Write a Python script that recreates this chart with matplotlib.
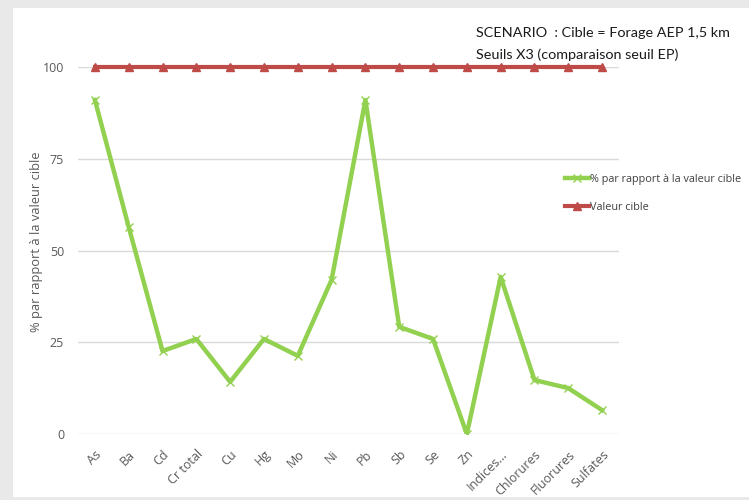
import matplotlib
matplotlib.use("Agg")
import matplotlib.pyplot as plt
from matplotlib.patches import Rectangle

plt.rcParams['font.family'] = ['Open Sans', 'DejaVu Sans']

# Data
categories = ["As", "Ba", "Cd", "Cr total", "Cu", "Hg", "Mo", "Ni", "Pb", "Sb",
              "Se", "Zn", "Indices...", "Chlorures", "Fluorures", "Sulfates"]
pct_values = [91.0, 56.4, 22.6, 25.9, 14.2, 25.9, 21.3, 42.0, 91.0, 29.2,
              25.9, 0.0, 42.8, 14.7, 12.5, 6.5]
target_values = [100] * len(categories)
y_ticks = [0, 25, 50, 75, 100]

fig = plt.figure(figsize=(7.49, 5.0), dpi=100)
fig.patch.set_facecolor("#e9e9e9")
# white card of the screenshot
fig.patches.append(Rectangle((13 / 749, 0.006), 1, 0.978, transform=fig.transFigure,
                             facecolor="white", edgecolor="none", zorder=-10))

ax = fig.add_axes([78 / 749, 66 / 500, 541 / 749, 367 / 500])
ax.set_zorder(2)
ax.set_facecolor("none")
x = list(range(len(categories)))

ax.plot(x, pct_values, color="#92d050", linewidth=3.2, marker="x", markersize=6,
        markeredgewidth=1.0, markeredgecolor="#92d050", label="% par rapport à la valeur cible",
        zorder=3)
ax.plot(x, target_values, color="#be4b48", linewidth=3.0, marker="^", markersize=6,
        label="Valeur cible", zorder=3, clip_on=False)

ax.set_xlim(-0.5, len(categories) - 0.5)
ax.set_ylim(0, 100)
ax.set_yticks(y_ticks)
ax.yaxis.grid(True, color="#d9d9d9", linewidth=1)
ax.set_axisbelow(True)
for s in ax.spines.values():
    s.set_visible(False)
ax.tick_params(axis="both", length=0, colors="#595959", labelsize=9)
ax.tick_params(axis="y", pad=10)
ax.set_xticks(x)
ax.set_xticklabels(categories, rotation=45, ha="right", rotation_mode="anchor")
ax.tick_params(axis="x", pad=10)
ax.set_ylabel("% par rapport à la valeur cible", color="#595959", fontsize=9.3)
ax.yaxis.set_label_coords((43 - 78) / 541, 0.525)

leg = ax.legend(loc="upper left", bbox_to_anchor=(565 / 749, 0.652), bbox_transform=fig.transFigure,
                frameon=False, fontsize=7.8, handlelength=2.2, handletextpad=0.1,
                borderpad=0, borderaxespad=0, labelspacing=1.55, labelcolor="#404040")

fig.text(476 / 749, 1 - 33 / 500, "SCENARIO  : Cible = Forage AEP 1,5 km", fontsize=10.4,
         color="#1a1a1a", va="center", family=["Lato", "DejaVu Sans"])
fig.text(476 / 749, 1 - 55 / 500, "Seuils X3 (comparaison seuil EP)", fontsize=10.4,
         color="#1a1a1a", va="center", family=["Lato", "DejaVu Sans"])

fig.savefig("out.png", dpi=100)
